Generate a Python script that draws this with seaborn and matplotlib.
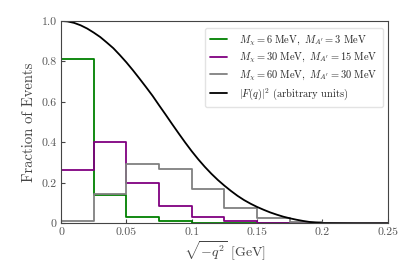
import numpy as np
import pandas as pd
import matplotlib
matplotlib.use('Agg')
import matplotlib.pyplot as plt
import seaborn as sns

# Bin edges of the q histograms (GeV)
bin_edges = [0.0, 0.025, 0.05, 0.075, 0.1, 0.125, 0.15, 0.175, 0.2, 0.225, 0.25]

# Fraction of events per bin
frac_6mev = [0.81, 0.14, 0.033, 0.011, 0.004, 0.001, 0.0, 0.0, 0.0, 0.0]
frac_30mev = [0.265, 0.40, 0.20, 0.085, 0.033, 0.013, 0.004, 0.001, 0.0, 0.0]
frac_60mev = [0.01, 0.145, 0.292, 0.27, 0.17, 0.078, 0.028, 0.008, 0.001, 0.0]

# |F(q)|^2 curve, sampled from the figure
q_curve = [0.0, 0.005, 0.01, 0.015, 0.02, 0.025, 0.03, 0.035, 0.04, 0.045,
           0.05, 0.055, 0.06, 0.065, 0.07, 0.075, 0.08, 0.085, 0.09, 0.095,
           0.1, 0.105, 0.11, 0.115, 0.12, 0.125, 0.13, 0.135, 0.14, 0.145,
           0.15, 0.155, 0.16, 0.165, 0.17, 0.175, 0.18, 0.185, 0.19, 0.195,
           0.2, 0.225, 0.25]
ff_curve = [1.0, 0.997, 0.99, 0.978, 0.962, 0.942, 0.92, 0.893, 0.865, 0.831,
            0.795, 0.756, 0.715, 0.673, 0.63, 0.583, 0.537, 0.49, 0.444, 0.399,
            0.356, 0.316, 0.279, 0.245, 0.214, 0.186, 0.16, 0.136, 0.115, 0.097,
            0.081, 0.067, 0.054, 0.043, 0.033, 0.025, 0.018, 0.012, 0.007, 0.003,
            0.001, 0.0, 0.0]

labels = [r'$M_\chi = 6\ \mathrm{MeV},\ M_{A^\prime} = 3\ \mathrm{MeV}$',
          r'$M_\chi = 30\ \mathrm{MeV},\ M_{A^\prime} = 15\ \mathrm{MeV}$',
          r'$M_\chi = 60\ \mathrm{MeV},\ M_{A^\prime} = 30\ \mathrm{MeV}$']
colors = ['green', 'purple', 'gray']

sns.set_style('ticks')
plt.rcParams.update({
    'font.family': 'cmr10',
    'mathtext.fontset': 'cm',
    'axes.formatter.use_mathtext': True,
    'axes.edgecolor': '#444444',
    'xtick.direction': 'in',
    'ytick.direction': 'in',
})

centers = [(a + b) / 2 for a, b in zip(bin_edges[:-1], bin_edges[1:])]

fig = plt.figure(figsize=(3.99, 2.64), dpi=100)
ax = fig.add_axes([0.153, 0.154, 0.819, 0.767])

for frac, lab, col in zip([frac_6mev, frac_30mev, frac_60mev], labels, colors):
    sns.histplot(x=centers, weights=frac, bins=bin_edges, element='step',
                 fill=False, color=col, linewidth=1.3, ax=ax, label=lab)

curve_df = pd.DataFrame({'q': q_curve, 'ff': ff_curve})
sns.lineplot(data=curve_df, x='q', y='ff', color='black', linewidth=1.3,
             ax=ax, label=r'$|F(q)|^2$ (arbitrary units)')

ax.set_xlim(0, 0.25)
ax.set_ylim(0, 1.0)
ax.set_xticks([0, 0.05, 0.1, 0.15, 0.2, 0.25])
ax.set_xticklabels(['0', '0.05', '0.1', '0.15', '0.2', '0.25'])
ax.set_yticks([0, 0.2, 0.4, 0.6, 0.8, 1.0])
ax.set_yticklabels(['0', '0.2', '0.4', '0.6', '0.8', '1.0'])
ax.tick_params(labelsize=8.5, length=3, pad=3, colors='#444444', labelcolor='#555555')
ax.set_xlabel(r'$\sqrt{-q^2}$ [GeV]', fontsize=10, color='#444444', labelpad=2)
ax.set_ylabel('Fraction of Events', fontsize=10.5, color='#444444', labelpad=4)

ax.legend(loc='upper right', fontsize=7.5, frameon=True, edgecolor='#dddddd',
          handlelength=1.6, handletextpad=1.2, borderpad=0.5, labelspacing=0.3,
          bbox_to_anchor=(1.0, 0.99))

fig.savefig('out.png', dpi=100)
